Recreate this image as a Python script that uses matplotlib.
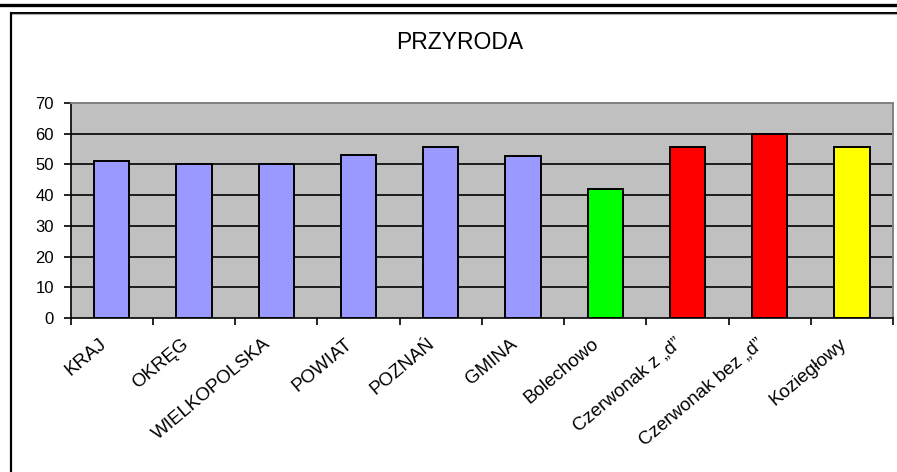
import matplotlib.pyplot as plt
import numpy as np
from matplotlib.lines import Line2D
from matplotlib.transforms import ScaledTranslation

categories = ["KRAJ", "OKRĘG", "WIELKOPOLSKA", "POWIAT", "POZNAŃ", "GMINA",
              "Bolechowo", "Czerwonak z „d”", "Czerwonak bez „d”", "Koziegłowy"]
values = [51.0, 50.0, 50.0, 53.2, 55.8, 52.7, 42.1, 55.8, 60.0, 55.8]
bar_colors = ["#9999ff"] * 6 + ["#00ff00", "#ff0000", "#ff0000", "#ffff00"]

W, H = 897, 472
plt.rcParams["font.family"] = ["Liberation Sans", "DejaVu Sans"]

fig = plt.figure(figsize=(W / 100, H / 100), dpi=100)

# page decoration: thick rule on top and the chart frame
fig.add_artist(Line2D([0, 1], [1 - 5 / H, 1 - 5 / H], color="black", lw=2.4))
fig.add_artist(Line2D([11 / W, 1], [1 - 12.5 / H, 1 - 12.5 / H], color="black", lw=1.4))
fig.add_artist(Line2D([11 / W, 1], [1 - 14 / H, 1 - 14 / H], color="#b0b0b0", lw=0.8))
fig.add_artist(Line2D([11 / W, 11 / W], [0, 1 - 12.5 / H], color="black", lw=1.6))

left, right, top, bottom = 70.7, 893, 103, 318
ax = fig.add_axes([left / W, 1 - bottom / H, (right - left) / W, (bottom - top) / H])
ax.set_facecolor("#c0c0c0")

x = np.arange(len(categories))
ax.bar(x, values, width=0.43, color=bar_colors, edgecolor="black", lw=1.4, zorder=3)

ax.set_xlim(-0.5, len(categories) - 0.5)
ax.set_ylim(0, 70)
ax.set_yticks(range(0, 71, 10))
for v in range(10, 70, 10):
    ax.axhline(v, color="black", lw=1.2, zorder=1)

for side in ("top", "right"):
    ax.spines[side].set_color("#808080")
    ax.spines[side].set_linewidth(1.4)
for side in ("left", "bottom"):
    ax.spines[side].set_color("black")
    ax.spines[side].set_linewidth(1.2)

ax.set_xticks(np.arange(-0.5, len(categories)), [""] * (len(categories) + 1))
ax.set_xticks(x, categories, minor=True)
ax.tick_params(axis="x", which="major", direction="out", length=5, width=1.2)
ax.tick_params(axis="x", which="minor", length=0, pad=17, labelsize=13.5)
ax.tick_params(axis="y", direction="out", length=5, width=1.2, labelsize=12, pad=7)

offset = ScaledTranslation(-8 / 100, 0, fig.dpi_scale_trans)
for lab in ax.get_xticklabels(minor=True):
    lab.set_rotation(40)
    lab.set_ha("right")
    lab.set_va("center")
    lab.set_rotation_mode("anchor")
    lab.set_transform(lab.get_transform() + offset)

fig.text(460 / W, 1 - 49 / H, "PRZYRODA", ha="center", va="baseline", fontsize=16.5)

fig.savefig("out.png", dpi=100)
